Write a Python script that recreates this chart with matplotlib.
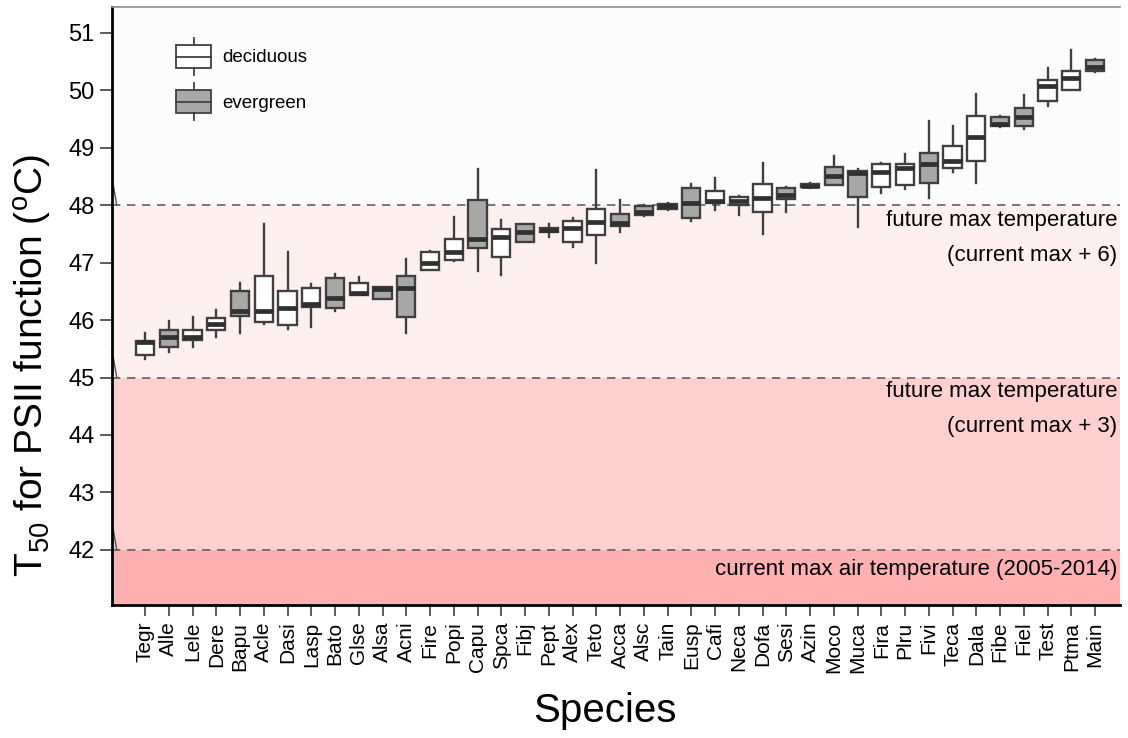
import matplotlib
matplotlib.use("Agg")
import matplotlib.pyplot as plt
from matplotlib.legend_handler import HandlerBase
from matplotlib.lines import Line2D
from matplotlib.patches import Patch, Rectangle

plt.rcParams["font.family"] = ["Liberation Sans", "DejaVu Sans"]
plt.rcParams["mathtext.fontset"] = "custom"
plt.rcParams["mathtext.rm"] = "Liberation Sans"
plt.rcParams["mathtext.it"] = "Liberation Sans:italic"

# Daten: T50 je Art (Whisker unten, Q1, Median, Q3, Whisker oben)
species = ["Tegr", "Alle", "Lele", "Dere", "Bapu", "Acle", "Dasi", "Lasp", "Bato", "Glse",
           "Alsa", "Acni", "Fire", "Popi", "Capu", "Spca", "Fibj", "Pept", "Alex", "Teto",
           "Acca", "Alsc", "Tain", "Eusp", "Cafi", "Neca", "Dofa", "Sesi", "Azin", "Moco",
           "Muca", "Fira", "Plru", "Fivi", "Teca", "Dala", "Fibe", "Fiel", "Test", "Ptma",
           "Main"]
leaf_type = ["d", "e", "d", "d", "e", "d", "d", "d", "e", "d",
             "e", "e", "d", "d", "e", "d", "e", "e", "d", "d",
             "e", "e", "e", "e", "d", "d", "d", "e", "e", "e",
             "e", "d", "d", "e", "d", "d", "e", "e", "d", "d",
             "e"]
whislo = [45.32, 45.45, 45.53, 45.71, 45.77, 45.93, 45.85, 45.88, 46.16, 46.43,
          46.36, 45.77, 46.87, 47.02, 46.86, 46.79, 47.36, 47.44, 47.28, 46.99,
          47.54, 47.82, 47.92, 47.73, 47.91, 47.83, 47.50, 47.89, 48.30, 48.35,
          47.62, 48.21, 48.28, 48.12, 48.57, 48.38, 49.36, 49.32, 49.72, 50.00,
          50.32]
q1 = [45.39, 45.53, 45.66, 45.83, 46.07, 45.97, 45.92, 46.23, 46.21, 46.44,
      46.36, 46.06, 46.87, 47.04, 47.25, 47.10, 47.36, 47.54, 47.36, 47.48,
      47.64, 47.83, 47.93, 47.77, 48.03, 48.01, 47.88, 48.11, 48.31, 48.35,
      48.14, 48.32, 48.35, 48.38, 48.64, 48.77, 49.37, 49.37, 49.82, 50.00,
      50.34]
med = [45.61, 45.70, 45.71, 45.93, 46.15, 46.15, 46.21, 46.28, 46.39, 46.47,
       46.54, 46.56, 46.99, 47.18, 47.41, 47.44, 47.54, 47.57, 47.60, 47.70,
       47.69, 47.88, 47.98, 48.04, 48.08, 48.08, 48.12, 48.18, 48.34, 48.51,
       48.56, 48.57, 48.64, 48.72, 48.77, 49.19, 49.41, 49.53, 50.08, 50.22,
       50.41]
q3 = [45.63, 45.82, 45.82, 46.03, 46.50, 46.76, 46.50, 46.55, 46.73, 46.65,
      46.57, 46.77, 47.18, 47.41, 48.09, 47.59, 47.67, 47.60, 47.73, 47.94,
      47.85, 47.99, 48.02, 48.30, 48.25, 48.14, 48.37, 48.30, 48.37, 48.67,
      48.59, 48.72, 48.72, 48.90, 49.03, 49.56, 49.53, 49.69, 50.18, 50.34,
      50.52]
whishi = [45.78, 45.99, 46.05, 46.18, 46.64, 47.67, 47.19, 46.62, 46.80, 46.75,
          46.57, 47.06, 47.20, 47.79, 48.63, 47.74, 47.67, 47.67, 47.77, 48.61,
          48.09, 48.01, 48.04, 48.37, 48.48, 48.16, 48.74, 48.31, 48.38, 48.85,
          48.63, 48.73, 48.89, 49.47, 49.37, 49.94, 49.55, 49.91, 50.39, 50.70,
          50.54]

# Temperaturschwellen
current_max = 42
future_plus3 = 45
future_plus6 = 48

fill_colors = {"d": "white", "e": "#A8A8A8"}
edge = "#404040"


class BoxLegendHandler(HandlerBase):
    def create_artists(self, legend, orig_handle, xdescent, ydescent, width, height, fontsize, trans):
        x0, y0 = -xdescent, -ydescent
        lo, hi = y0 + 0.19 * height, y0 + 0.81 * height
        box = Rectangle((x0, lo), width, hi - lo, facecolor=orig_handle.get_facecolor(),
                        edgecolor=edge, lw=1.3, transform=trans)
        mid = Line2D([x0, x0 + width], [(lo + hi) / 2] * 2, color=edge, lw=1.3, transform=trans)
        w1 = Line2D([x0 + width / 2] * 2, [hi, y0 + height], color=edge, lw=1.3, transform=trans)
        w2 = Line2D([x0 + width / 2] * 2, [y0, lo], color=edge, lw=1.3, transform=trans)
        return [box, mid, w1, w2]


fig = plt.figure(figsize=(11.28, 7.38), dpi=100)
ax = fig.add_axes([0.0993, 0.1802, 0.8936, 0.8103])

xmin, xmax = -1.39, len(species) - 1 + 1.05
ymin, ymax = 41.04, 51.45
ax.set_xlim(xmin, xmax)
ax.set_ylim(ymin, ymax)

# Hintergrundbänder
ax.axhspan(ymin, current_max, color="#FFB0B0", lw=0, zorder=0)
ax.axhspan(current_max, future_plus3, color="#FFD0D0", lw=0, zorder=0)
ax.axhspan(future_plus3, future_plus6, color="#FFF0F0", lw=0, zorder=0)
ax.axhspan(future_plus6, ymax, color="#FCFCFC", lw=0, zorder=0)

for level in [current_max, future_plus3, future_plus6]:
    ax.axhline(level, color="#606060", lw=1.2, ls=(0, (5, 4)), zorder=1)
    ax.plot([xmin, xmin + 0.2], [level + 0.48, level], color="#505050", lw=1.0, zorder=1,
            clip_on=False)

stats = []
for i, name in enumerate(species):
    stats.append({"label": name, "whislo": whislo[i], "q1": q1[i], "med": med[i],
                  "q3": q3[i], "whishi": whishi[i], "fliers": []})

bp = ax.bxp(stats, positions=range(len(species)), widths=0.77, patch_artist=True,
            showcaps=False, showfliers=False,
            boxprops=dict(edgecolor=edge, lw=1.7, zorder=3),
            whiskerprops=dict(color=edge, lw=1.7, zorder=2),
            medianprops=dict(color="#303030", lw=3.4, solid_capstyle="butt", zorder=4))
for patch, t in zip(bp["boxes"], leaf_type):
    patch.set_facecolor(fill_colors[t])

# Beschriftungen der Schwellen
tx = xmax - 0.12
fs_band = 16
ax.text(tx, 47.74, "future max temperature", ha="right", va="center", fontsize=fs_band)
ax.text(tx, 47.13, "(current max + 6)", ha="right", va="center", fontsize=fs_band)
ax.text(tx, 44.75, "future max temperature", ha="right", va="center", fontsize=fs_band)
ax.text(tx, 44.14, "(current max + 3)", ha="right", va="center", fontsize=fs_band)
ax.text(tx, 41.65, "current max air temperature (2005-2014)", ha="right", va="center",
        fontsize=fs_band)

ax.set_yticks(range(42, 52))
ax.set_xticks(range(len(species)))
ax.set_xticklabels(species, rotation=90)
ax.tick_params(axis="y", labelsize=17, length=8.5, width=1.2, color="#404040", pad=4)
ax.tick_params(axis="x", labelsize=15, length=8, width=1.2, color="#404040", pad=4)

ax.spines["left"].set_linewidth(2)
ax.spines["bottom"].set_linewidth(2)
ax.spines["top"].set_color("#909090")
ax.spines["top"].set_linewidth(1.2)
ax.spines["right"].set_visible(False)

ax.set_ylabel(r"T$_{50}$ for PSII function ($^{\rm o}$C)", fontsize=28)
ax.yaxis.set_label_coords(-0.058, 0.40)
ax.set_xlabel("Species", fontsize=29)
ax.xaxis.set_label_coords(0.489, -0.145)

handles = [Patch(facecolor="white"), Patch(facecolor="#A8A8A8")]
ax.legend(handles, ["deciduous", "evergreen"], handler_map={Patch: BoxLegendHandler()},
          loc="upper left", bbox_to_anchor=(0.0635, 0.948), frameon=False, fontsize=13.5,
          handlelength=1.87, handleheight=2.65, labelspacing=0.45, handletextpad=0.6,
          borderpad=0, borderaxespad=0)

plt.savefig("out.png", dpi=100)
